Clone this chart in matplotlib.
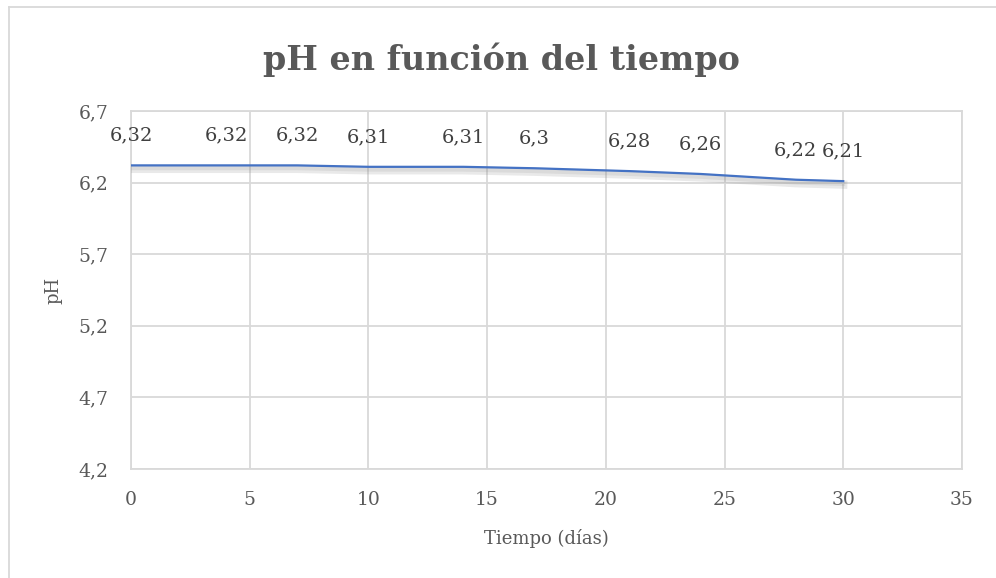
import matplotlib.pyplot as plt
import matplotlib.patheffects as pe
from matplotlib.ticker import FuncFormatter
import numpy as np

dias = [0, 4, 7, 10, 14, 17, 21, 24, 28, 30]
ph = [6.32, 6.32, 6.32, 6.31, 6.31, 6.3, 6.28, 6.26, 6.22, 6.21]

xticks = [0, 5, 10, 15, 20, 25, 30, 35]
yticks = [4.2, 4.7, 5.2, 5.7, 6.2, 6.7]

titulo = 'pH en función del tiempo'
xlab = 'Tiempo (días)'
ylab = 'pH'


def coma(v, pos=None):
    s = ('%.2f' % v).rstrip('0').rstrip('.')
    return s.replace('.', ',')


def main():
    plt.rcParams['font.family'] = ['DejaVu Serif']
    fig = plt.figure(figsize=(9.96, 5.78), dpi=100)
    ax = fig.add_axes([0.1315, 0.1886, 0.8343, 0.6194])

    ax.plot(dias, ph, color='#4472C4', lw=1.6, zorder=3,
            path_effects=[pe.SimpleLineShadow(offset=(0, -2.5), shadow_color='#888888', alpha=0.18, linewidth=6),
                          pe.SimpleLineShadow(offset=(0, -2), shadow_color='#888888', alpha=0.15, linewidth=3),
                          pe.Normal()])

    for x, y in zip(dias, ph):
        ax.annotate(coma(y), (x, y), xytext=(0, 15), textcoords='offset points',
                    ha='center', va='bottom', fontsize=14, color='#404040')

    ax.set_xlim(0, 35)
    ax.set_ylim(4.2, 6.7)
    ax.set_xticks(xticks)
    ax.set_yticks(yticks)
    ax.yaxis.set_major_formatter(FuncFormatter(coma))
    ax.grid(True, color='#D9D9D9', lw=1.3)
    ax.set_axisbelow(True)
    for s in ax.spines.values():
        s.set_color('#D9D9D9')
        s.set_linewidth(1.3)
    ax.tick_params(length=0, labelsize=13.5, labelcolor='#595959')
    ax.tick_params(axis='x', pad=16)
    ax.tick_params(axis='y', pad=16)

    ax.set_xlabel(xlab, fontsize=13, color='#595959', labelpad=14)
    ax.set_ylabel(ylab, fontsize=13, color='#595959', labelpad=12)
    fig.suptitle(titulo, x=0.503, y=0.927, fontsize=24, fontweight='bold', color='#595959')

    # borde del grafico
    fig.add_artist(plt.Line2D([0.009, 0.009], [0, 0.988], color='#D9D9D9', lw=1.3))
    fig.add_artist(plt.Line2D([0.009, 1.0], [0.988, 0.988], color='#D9D9D9', lw=1.3))

    fig.savefig('out.png', dpi=100)


if __name__ == '__main__':
    main()
